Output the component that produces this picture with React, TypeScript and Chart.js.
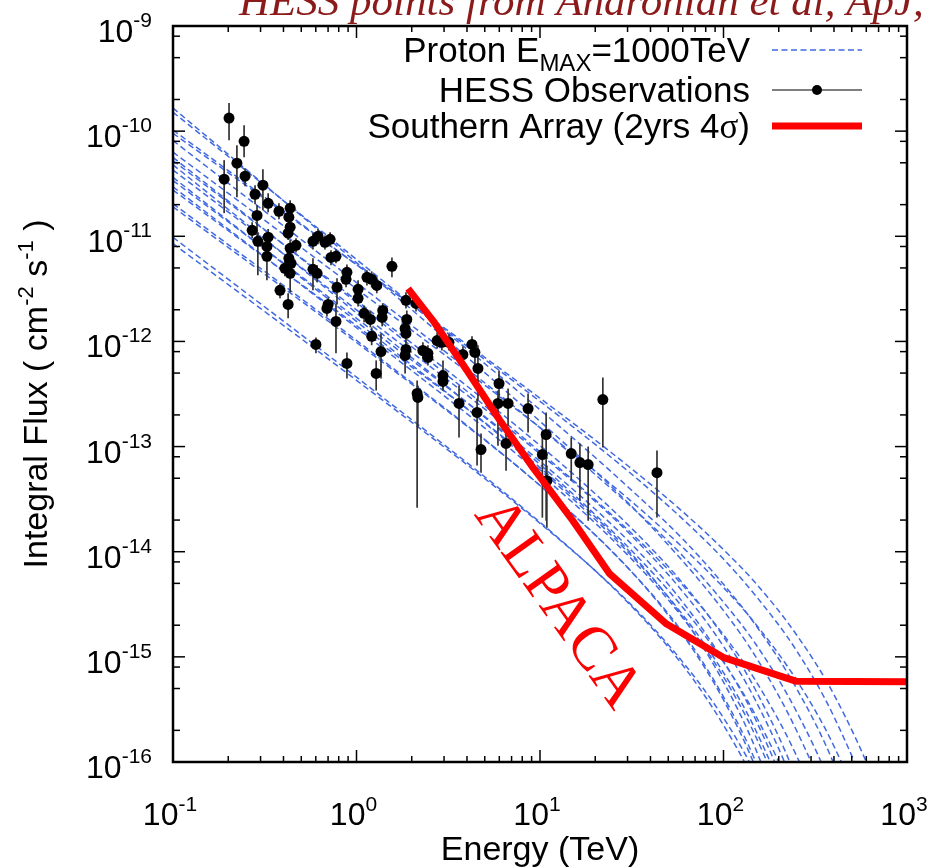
import React, { useEffect, useRef } from "react";
import { Chart, registerables } from "chart.js";

Chart.register(...registerables);

const SANS = '"Liberation Sans", Arial, Helvetica, sans-serif';
const SERIF = '"Liberation Serif", "Times New Roman", Times, serif';

// ---------- axis ticks ----------
const xMajorTicks = [0.1, 1, 10, 100, 1000];
const xTickExponents = ["-1", "0", "1", "2", "3"];
const xMinorMultipliers = [2, 3, 4, 5, 6, 7, 8, 9];
const yMajorTicks = [1e-9, 1e-10, 1e-11, 1e-12, 1e-13, 1e-14, 1e-15, 1e-16];
const yTickExponents = ["-9", "-10", "-11", "-12", "-13", "-14", "-15", "-16"];
const yMinorMultipliers = [2, 5, 8];

// ---------- proton model curves (log10 of integral flux) ----------
const energyGrid = [0.1, 1, 10, 30, 60, 100, 150, 250, 400, 700, 1000];
const protonLog10Flux: number[][] = [
  [-9.78, -11.25, -12.76, -13.53, -14.09, -14.56, -15.0, -15.7, -16.55, -18.02, -19.36],
  [-9.82, -11.22, -12.65, -13.38, -13.88, -14.31, -14.7, -15.3, -16.02, -17.23, -18.32],
  [-9.99, -11.27, -12.57, -13.23, -13.69, -14.07, -14.42, -14.94, -15.57, -16.6, -17.52],
  [-10.02, -11.27, -12.54, -13.18, -13.62, -13.98, -14.3, -14.79, -15.36, -16.29, -17.12],
  [-10.09, -11.44, -12.82, -13.54, -14.04, -14.48, -14.88, -15.52, -16.3, -17.63, -18.85],
  [-10.2, -11.5, -12.82, -13.49, -13.96, -14.34, -14.69, -15.22, -15.85, -16.89, -17.82],
  [-10.25, -11.63, -13.05, -13.79, -14.32, -14.79, -15.23, -15.94, -16.82, -18.35, -19.76],
  [-10.28, -11.61, -12.99, -13.74, -14.3, -14.81, -15.32, -16.16, -17.24, -19.2, -21.03],
  [-10.32, -11.73, -13.17, -13.95, -14.53, -15.05, -15.56, -16.4, -17.48, -19.41, -21.22],
  [-10.37, -11.7, -13.07, -13.81, -14.38, -14.9, -15.42, -16.29, -17.42, -19.46, -21.38],
  [-10.44, -11.81, -13.22, -14.0, -14.6, -15.15, -15.7, -16.64, -17.86, -20.08, -22.17],
  [-10.47, -11.78, -13.14, -13.89, -14.48, -15.04, -15.6, -16.55, -17.82, -20.14, -22.34],
  [-10.53, -11.87, -13.26, -14.03, -14.63, -15.19, -15.76, -16.73, -18.01, -20.35, -22.57],
  [-10.56, -11.85, -13.2, -13.98, -14.62, -15.24, -15.88, -17.0, -18.52, -21.34, -24.05],
  [-10.69, -11.99, -13.37, -14.15, -14.77, -15.38, -16.0, -17.08, -18.52, -21.2, -23.76],
  [-10.72, -12.01, -13.37, -14.15, -14.79, -15.41, -16.06, -17.2, -18.74, -21.6, -24.35],
  [-11.01, -12.34, -13.72, -14.48, -15.08, -15.65, -16.22, -17.19, -18.47, -20.82, -23.06],
  [-11.07, -12.37, -13.73, -14.47, -15.05, -15.58, -16.12, -17.02, -18.21, -20.37, -22.41],
];

// ---------- HESS observations ----------
const hessEnergy = [0.202, 0.244, 0.223, 0.19, 0.247, 0.309, 0.28, 0.33, 0.378, 0.435, 0.428, 0.435, 0.424, 0.287, 0.27, 0.33, 0.29, 0.325, 0.325, 0.579, 0.617, 0.673, 0.718, 0.435, 0.468, 0.726, 0.773, 0.428, 0.407, 0.44, 0.435, 0.579, 0.61, 0.887, 0.877, 1.14, 1.21, 1.29, 1.56, 0.383, 0.783, 1.02, 1.02, 0.424, 0.601, 0.7, 0.69, 0.773, 0.887, 1.1, 1.19, 1.39, 1.38, 1.21, 1.36, 1.28, 1.86, 2.11, 1.88, 1.84, 1.86, 1.86, 1.84, 2.14, 2.16, 2.3, 2.45, 2.45, 2.75, 2.92, 3.19, 3.8, 2.96, 2.96, 4.26, 4.42, 4.59, 3.62, 4.54, 4.77, 5.98, 5.9, 6.7, 6.53, 8.61, 10.8, 10.3, 10.9, 14.8, 16.5, 18.3, 22.0, 43.4];
const hessFlux = [1.33e-10, 8.0e-11, 4.96e-11, 3.49e-11, 3.73e-11, 3.06e-11, 2.51e-11, 2.06e-11, 1.73e-11, 1.85e-11, 1.52e-11, 1.22e-11, 1.07e-11, 1.58e-11, 1.14e-11, 9.8e-12, 8.96e-12, 8.0e-12, 6.45e-12, 8.96e-12, 1.0e-11, 8.77e-12, 9.36e-12, 7.69e-12, 8.2e-12, 6.3e-12, 6.45e-12, 6.17e-12, 4.96e-12, 5.53e-12, 4.44e-12, 4.85e-12, 4.44e-12, 4.54e-12, 3.9e-12, 4.07e-12, 3.9e-12, 3.41e-12, 5.18e-12, 3.06e-12, 3.27e-12, 3.13e-12, 2.57e-12, 2.25e-12, 9.36e-13, 2.25e-12, 2.06e-12, 1.55e-12, 6.17e-13, 1.85e-12, 1.62e-12, 1.97e-12, 1.69e-12, 1.12e-12, 8.0e-13, 4.96e-13, 2.46e-12, 2.3e-12, 1.62e-12, 1.33e-12, 1.19e-12, 8.4e-13, 7.36e-13, 3.2e-13, 2.93e-13, 8.2e-13, 7.7e-13, 7.05e-13, 1.02e-12, 9.8e-13, 9.8e-13, 7.5e-13, 4.74e-13, 4.16e-13, 9.36e-13, 7.85e-13, 5.53e-13, 2.57e-13, 2.11e-13, 9.36e-14, 3.98e-13, 2.57e-13, 2.57e-13, 1.07e-13, 2.3e-13, 1.3e-13, 8.4e-14, 4.74e-14, 8.57e-14, 7.05e-14, 6.75e-14, 2.8e-13, 5.65e-14];
const hessFluxHigh = [1.85e-10, 1.14e-10, 7.36e-11, 5.3e-11, 4.44e-11, 4.35e-11, 3.06e-11, 2.57e-11, 2.06e-11, 2.2e-11, 1.85e-11, 1.42e-11, 1.25e-11, 1.97e-11, 1.36e-11, 1.17e-11, 1.09e-11, 9.6e-12, 7.85e-12, 1.07e-11, 1.17e-11, 1.02e-11, 1.09e-11, 9.2e-12, 9.6e-12, 7.36e-12, 7.5e-12, 7.36e-12, 5.9e-12, 6.45e-12, 5.4e-12, 6.17e-12, 5.3e-12, 5.4e-12, 4.64e-12, 4.75e-12, 4.64e-12, 4.07e-12, 6.3e-12, 3.57e-12, 3.98e-12, 3.81e-12, 3.06e-12, 2.87e-12, 1.09e-12, 2.62e-12, 2.41e-12, 2.3e-12, 7.85e-13, 2.2e-12, 1.93e-12, 2.31e-12, 2.0e-12, 1.36e-12, 1.19e-12, 6.6e-13, 2.93e-12, 2.68e-12, 1.97e-12, 1.58e-12, 1.42e-12, 1.02e-12, 9.2e-13, 4.25e-13, 3.81e-13, 9.8e-13, 9.2e-13, 8.4e-13, 1.22e-12, 1.17e-12, 1.17e-12, 8.96e-13, 6.6e-13, 5.07e-13, 1.12e-12, 9.36e-13, 9.2e-13, 3.81e-13, 2.86e-13, 1.33e-13, 5.3e-13, 3.41e-13, 3.57e-13, 1.36e-13, 3.2e-13, 2.11e-13, 1.42e-13, 6.6e-14, 1.22e-13, 1.07e-13, 1.0e-13, 4.54e-13, 9.2e-14];
const hessFluxLow = [8.2e-11, 5.65e-11, 2.35e-11, 1.66e-11, 2.99e-11, 1.77e-11, 2.02e-11, 1.69e-11, 1.45e-11, 1.55e-11, 1.27e-11, 1.05e-11, 9.2e-12, 8.6e-12, 9.6e-12, 8.2e-12, 4.26e-12, 6.7e-12, 3.81e-12, 7.5e-12, 8.4e-12, 7.5e-12, 8.0e-12, 6.45e-12, 7.0e-12, 5.3e-12, 5.53e-12, 5.18e-12, 4.16e-12, 4.75e-12, 2.93e-12, 3.06e-12, 3.65e-12, 3.81e-12, 3.27e-12, 3.41e-12, 3.27e-12, 2.87e-12, 4.07e-12, 2.57e-12, 2.25e-12, 2.57e-12, 2.15e-12, 1.66e-12, 7.7e-13, 1.89e-12, 1.73e-12, 7.7e-13, 4.44e-13, 1.52e-12, 1.36e-12, 1.66e-12, 1.39e-12, 9.2e-13, 4.44e-13, 3.41e-13, 2.06e-12, 1.93e-12, 1.33e-12, 1.09e-12, 1.0e-12, 6.9e-13, 4.96e-13, 2.62e-14, 1.5e-13, 6.75e-13, 6.45e-13, 5.9e-13, 8.57e-13, 8.2e-13, 8.2e-13, 6.3e-13, 3.57e-13, 3.41e-13, 7.85e-13, 5.78e-13, 2.74e-13, 1.22e-13, 6.6e-14, 5.65e-14, 2.86e-13, 1.02e-13, 1.58e-13, 5.9e-14, 1.36e-13, 1.97e-14, 2.11e-14, 1.69e-14, 4.74e-14, 3.06e-14, 1.97e-14, 9.8e-14, 2.11e-14];

// ---------- ALPACA southern array sensitivity ----------
const alpacaEnergy = [1.91, 2.61, 4.0, 6.05, 9.16, 15.1, 24.0, 49.0, 99.5, 250, 1000];
const alpacaFlux = [3.18e-12, 1.58e-12, 5.3e-13, 1.77e-13, 6.3e-14, 1.97e-14, 6.14e-15, 2.05e-15, 9.9e-16, 5.85e-16, 5.8e-16];
const alpacaLabel = "ALPACA";
const alpacaLabelEnergy = 12.4;
const alpacaLabelFlux = 3.2e-15;

const headerText = "HESS points from Aharonian et al, ApJ, 636, 777 (2006)";

const BLUE = "#4169e1";
const RED = "#ff0000";
const HESS_INDEX = 1;

type Seg = { t: string; font: string; dy: number };
function segsWidth(ctx: CanvasRenderingContext2D, segs: Seg[]) {
  let w = 0;
  for (const s of segs) {
    ctx.font = s.font;
    w += ctx.measureText(s.t).width;
  }
  return w;
}
function drawSegs(ctx: CanvasRenderingContext2D, segs: Seg[], x: number, y: number) {
  let cx = x;
  ctx.textAlign = "left";
  ctx.textBaseline = "alphabetic";
  for (const s of segs) {
    ctx.font = s.font;
    ctx.fillText(s.t, cx, y + s.dy);
    cx += ctx.measureText(s.t).width;
  }
}
function line(ctx: CanvasRenderingContext2D, x1: number, y1: number, x2: number, y2: number) {
  ctx.beginPath();
  ctx.moveTo(x1, y1);
  ctx.lineTo(x2, y2);
  ctx.stroke();
}

const decorPlugin = {
  id: "decor",
  beforeDatasetDraw(chart: any, args: any) {
    if (args.index !== HESS_INDEX) return;
    const ctx: CanvasRenderingContext2D = chart.ctx;
    const xs = chart.scales.x;
    const ys = chart.scales.y;
    const a = chart.chartArea;
    ctx.save();
    ctx.beginPath();
    ctx.rect(a.left, a.top, a.right - a.left, a.bottom - a.top);
    ctx.clip();
    ctx.strokeStyle = "#333";
    ctx.lineWidth = 1.7;
    for (let i = 0; i < hessEnergy.length; i++) {
      const px = xs.getPixelForValue(hessEnergy[i]);
      line(ctx, px, ys.getPixelForValue(hessFluxHigh[i]), px, ys.getPixelForValue(hessFluxLow[i]));
    }
    ctx.restore();
  },
  afterDatasetsDraw(chart: any) {
    const ctx: CanvasRenderingContext2D = chart.ctx;
    const xs = chart.scales.x;
    const ys = chart.scales.y;
    ctx.save();
    ctx.translate(xs.getPixelForValue(alpacaLabelEnergy), ys.getPixelForValue(alpacaLabelFlux));
    ctx.rotate((54.5 * Math.PI) / 180);
    ctx.fillStyle = RED;
    ctx.font = `62px ${SERIF}`;
    ctx.textAlign = "center";
    ctx.textBaseline = "middle";
    ctx.fillText(alpacaLabel, 0, 0);
    ctx.restore();
  },
  afterDraw(chart: any) {
    const ctx: CanvasRenderingContext2D = chart.ctx;
    const xs = chart.scales.x;
    const ys = chart.scales.y;
    const { left, right, top, bottom } = chart.chartArea;
    ctx.save();
    // ticks
    ctx.strokeStyle = "#000";
    ctx.lineWidth = 1.5;
    xMajorTicks.forEach((v, i) => {
      const px = xs.getPixelForValue(v);
      line(ctx, px, bottom, px, bottom - 12);
      line(ctx, px, top, px, top + 12);
      if (i < xMajorTicks.length - 1) {
        xMinorMultipliers.forEach((m) => {
          const mx = xs.getPixelForValue(v * m);
          line(ctx, mx, bottom, mx, bottom - 6);
          line(ctx, mx, top, mx, top + 6);
        });
      }
    });
    yMajorTicks.forEach((v, i) => {
      const py = ys.getPixelForValue(v);
      line(ctx, left, py, left + 12, py);
      line(ctx, right, py, right - 12, py);
      if (i > 0) {
        yMinorMultipliers.forEach((m) => {
          const my = ys.getPixelForValue(v * m);
          line(ctx, left, my, left + 7, my);
          line(ctx, right, my, right - 7, my);
        });
      }
    });
    // frame
    ctx.lineWidth = 2.5;
    ctx.strokeRect(left, top, right - left, bottom - top);

    // tick labels
    ctx.fillStyle = "#000";
    yMajorTicks.forEach((v, i) => {
      const py = ys.getPixelForValue(v);
      const segs: Seg[] = [
        { t: "10", font: `32px ${SANS}`, dy: 0 },
        { t: yTickExponents[i], font: `21px ${SANS}`, dy: -15 },
      ];
      const w = segsWidth(ctx, segs);
      drawSegs(ctx, segs, 152 - w, py + 16);
    });
    xMajorTicks.forEach((v, i) => {
      const px = xs.getPixelForValue(v);
      const segs: Seg[] = [
        { t: "10", font: `32px ${SANS}`, dy: 0 },
        { t: xTickExponents[i], font: `21px ${SANS}`, dy: -14 },
      ];
      const w = segsWidth(ctx, segs);
      drawSegs(ctx, segs, px - w / 2 - 3, 825);
    });

    // axis titles
    ctx.font = `34px ${SANS}`;
    ctx.textAlign = "center";
    ctx.fillText("Energy (TeV)", (left + right) / 2, 860);

    const ySegs: Seg[] = [
      { t: "Integral Flux ( cm", font: `34px ${SANS}`, dy: 0 },
      { t: "-2", font: `22px ${SANS}`, dy: -14 },
      { t: " s", font: `34px ${SANS}`, dy: 0 },
      { t: "-1", font: `22px ${SANS}`, dy: -14 },
      { t: " )", font: `34px ${SANS}`, dy: 0 },
    ];
    ctx.save();
    ctx.translate(47, (top + bottom) / 2);
    ctx.rotate(-Math.PI / 2);
    const yw = segsWidth(ctx, ySegs);
    drawSegs(ctx, ySegs, -yw / 2, 0);
    ctx.restore();

    // header (clipped at top of page)
    ctx.fillStyle = "#8b1a1a";
    ctx.font = `italic 43px ${SERIF}`;
    ctx.textAlign = "left";
    ctx.fillText(headerText, 239, 15);

    // legend
    ctx.fillStyle = "#000";
    const legendRight = 750;
    const s1: Seg[] = [
      { t: "Proton E", font: `35px ${SANS}`, dy: 0 },
      { t: "MAX", font: `24px ${SANS}`, dy: 9 },
      { t: "=1000TeV", font: `35px ${SANS}`, dy: 0 },
    ];
    drawSegs(ctx, s1, legendRight - segsWidth(ctx, s1), 62);
    const s2: Seg[] = [{ t: "HESS Observations", font: `35px ${SANS}`, dy: 0 }];
    drawSegs(ctx, s2, legendRight - segsWidth(ctx, s2), 102);
    const s3: Seg[] = [
      { t: "Southern Array (2yrs 4", font: `35px ${SANS}`, dy: 0 },
      { t: "\u03c3", font: `35px ${SERIF}`, dy: 0 },
      { t: ")", font: `35px ${SANS}`, dy: 0 },
    ];
    drawSegs(ctx, s3, legendRight - segsWidth(ctx, s3), 138);

    const sx1 = 772;
    const sx2 = 862;
    ctx.strokeStyle = BLUE;
    ctx.lineWidth = 1.5;
    ctx.setLineDash([6, 3.5]);
    line(ctx, sx1, 50, sx2, 50);
    ctx.setLineDash([]);
    ctx.strokeStyle = "#555";
    ctx.lineWidth = 1.5;
    line(ctx, sx1, 90, sx2, 90);
    ctx.fillStyle = "#000";
    ctx.beginPath();
    ctx.arc((sx1 + sx2) / 2, 90, 5, 0, Math.PI * 2);
    ctx.fill();
    ctx.strokeStyle = RED;
    ctx.lineWidth = 7;
    line(ctx, sx1, 126, sx2, 126);
    ctx.restore();
  },
};

export default function App() {
  const ref = useRef<HTMLCanvasElement>(null);
  useEffect(() => {
    const canvas = ref.current;
    if (!canvas) return;
    const datasets: any[] = [
      {
        type: "line",
        label: "Southern Array (2yrs 4\u03c3)",
        data: alpacaEnergy.map((e, i) => ({ x: e, y: alpacaFlux[i] })),
        borderColor: RED,
        borderWidth: 7,
        pointRadius: 0,
        borderCapStyle: "butt",
        borderJoinStyle: "round",
        fill: false,
        order: 0,
      },
      {
        type: "scatter",
        label: "HESS Observations",
        data: hessEnergy.map((e, i) => ({ x: e, y: hessFlux[i] })),
        backgroundColor: "#000",
        borderColor: "#000",
        borderWidth: 0,
        pointRadius: 5.5,
        order: 1,
      },
      ...protonLog10Flux.map((row, k) => ({
        type: "line",
        label: `Proton model ${k + 1}`,
        data: energyGrid.map((e, i) => ({ x: e, y: Math.pow(10, row[i]) })),
        borderColor: BLUE,
        borderWidth: 1.5,
        borderDash: [6, 3.5],
        pointRadius: 0,
        cubicInterpolationMode: "monotone",
        fill: false,
        order: 2,
      })),
    ];
    const chart = new Chart(canvas, {
      type: "line",
      data: { datasets },
      options: {
        responsive: false,
        animation: false,
        devicePixelRatio: 1,
        events: [],
        layout: { padding: { left: 173, right: 29, top: 26, bottom: 105 } },
        scales: {
          x: { type: "logarithmic", min: 0.1, max: 1000, display: false },
          y: { type: "logarithmic", min: 1e-16, max: 1e-9, display: false },
        },
        plugins: {
          legend: { display: false },
          tooltip: { enabled: false },
          title: { display: false },
        },
      },
      plugins: [decorPlugin],
    } as any);
    return () => chart.destroy();
  }, []);
  return (
    <div style={{ position: "fixed", left: 0, top: 0, width: 936, height: 867, background: "#fff" }}>
      <canvas ref={ref} width={936} height={867} style={{ width: 936, height: 867, display: "block" }} />
    </div>
  );
}
